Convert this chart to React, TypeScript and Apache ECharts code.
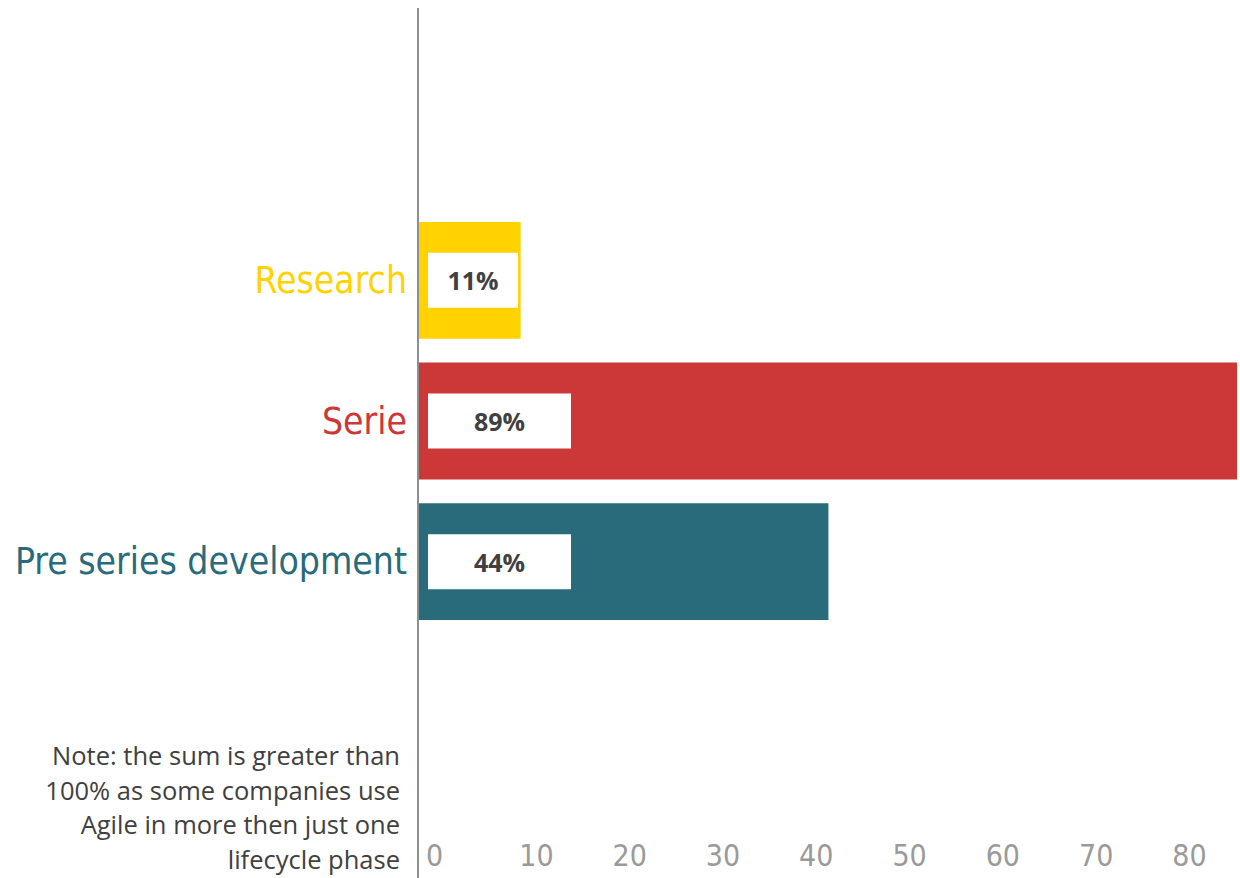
import React, { useEffect, useRef } from "react";
import * as echarts from "echarts";

const categories = ["Pre series development", "Serie", "Research"];
const values = [44, 89, 11];
const barColors = ["#296B7A", "#CC3837", "#FFD200"];
const labelBoxWidths = [143, 143, 90];
const xTicks = [0, 10, 20, 30, 40, 50, 60, 70, 80];
const noteLines = [
  "Note: the sum is greater than",
  "100% as some companies use",
  "Agile in more then just one",
  "lifecycle phase",
];

const narrow = "'DejaVu Sans Condensed', sans-serif";

export default function App() {
  const ref = useRef<HTMLDivElement>(null);
  useEffect(() => {
    if (!ref.current) return;
    const chart = echarts.init(ref.current, null, { renderer: "svg" });
    const gridLeft = 418;
    const option: any = {
      animation: false,
      backgroundColor: "#ffffff",
      grid: { left: gridLeft, right: -3, top: 210, bottom: 246, containLabel: false },
      xAxis: {
        type: "value",
        min: 0,
        max: 87.8,
        interval: 10,
        axisLine: { show: false },
        axisTick: { show: false },
        splitLine: { show: false },
        axisLabel: {
          margin: 208,
          align: "left",
          verticalAlign: "top",
          padding: [0, 0, 0, 8],
          fontFamily: narrow,
          fontSize: 30,
          color: "#9a9a9a",
          formatter: (v: number) => (xTicks.indexOf(v) >= 0 ? String(v) : ""),
        },
      },
      yAxis: {
        type: "category",
        data: categories,
        axisLine: { show: false },
        axisTick: { show: false },
        splitLine: { show: false },
        axisLabel: {
          margin: 11,
          fontFamily: narrow,
          fontSize: 37,
          color: (_v: string, i: number) => barColors[i],
        },
      },
      series: [
        {
          type: "bar",
          barCategoryGap: "17%",
          clip: true,
          data: values.map((v, i) => ({
            value: v,
            itemStyle: { color: barColors[i] },
            label: {
              rich: {
                b: {
                  width: labelBoxWidths[i],
                  height: 55,
                  backgroundColor: "#ffffff",
                  align: "center",
                  fontFamily: "Open Sans",
                  fontWeight: "bold",
                  fontSize: 25,
                  color: "#404040",
                },
              },
            },
          })),
          label: {
            show: true,
            position: "insideLeft",
            distance: 10,
            formatter: (p: any) => `{b|${p.value}%}`,
            rich: {
              b: {
                width: 143,
                height: 55,
                backgroundColor: "#ffffff",
                align: "center",
                fontFamily: "Open Sans",
                fontWeight: "bold",
                fontSize: 25,
                color: "#404040",
              },
            },
          },
        },
      ],
      graphic: [
        {
          type: "line",
          shape: { x1: gridLeft, y1: 8, x2: gridLeft, y2: 878 },
          style: { stroke: "#8f8f8f", lineWidth: 2 },
          z: 10,
        },
        {
          type: "text",
          x: 400,
          y: 738,
          style: {
            text: noteLines.join("\n"),
            align: "right",
            verticalAlign: "top",
            fontFamily: "Open Sans",
            fontSize: 25.5,
            lineHeight: 34.5,
            fill: "#404040",
          },
        },
      ],
    };
    chart.setOption(option);
    return () => chart.dispose();
  }, []);
  return (
    <div
      ref={ref}
      style={{ position: "fixed", left: 0, top: 0, width: 1240, height: 878 }}
    />
  );
}
